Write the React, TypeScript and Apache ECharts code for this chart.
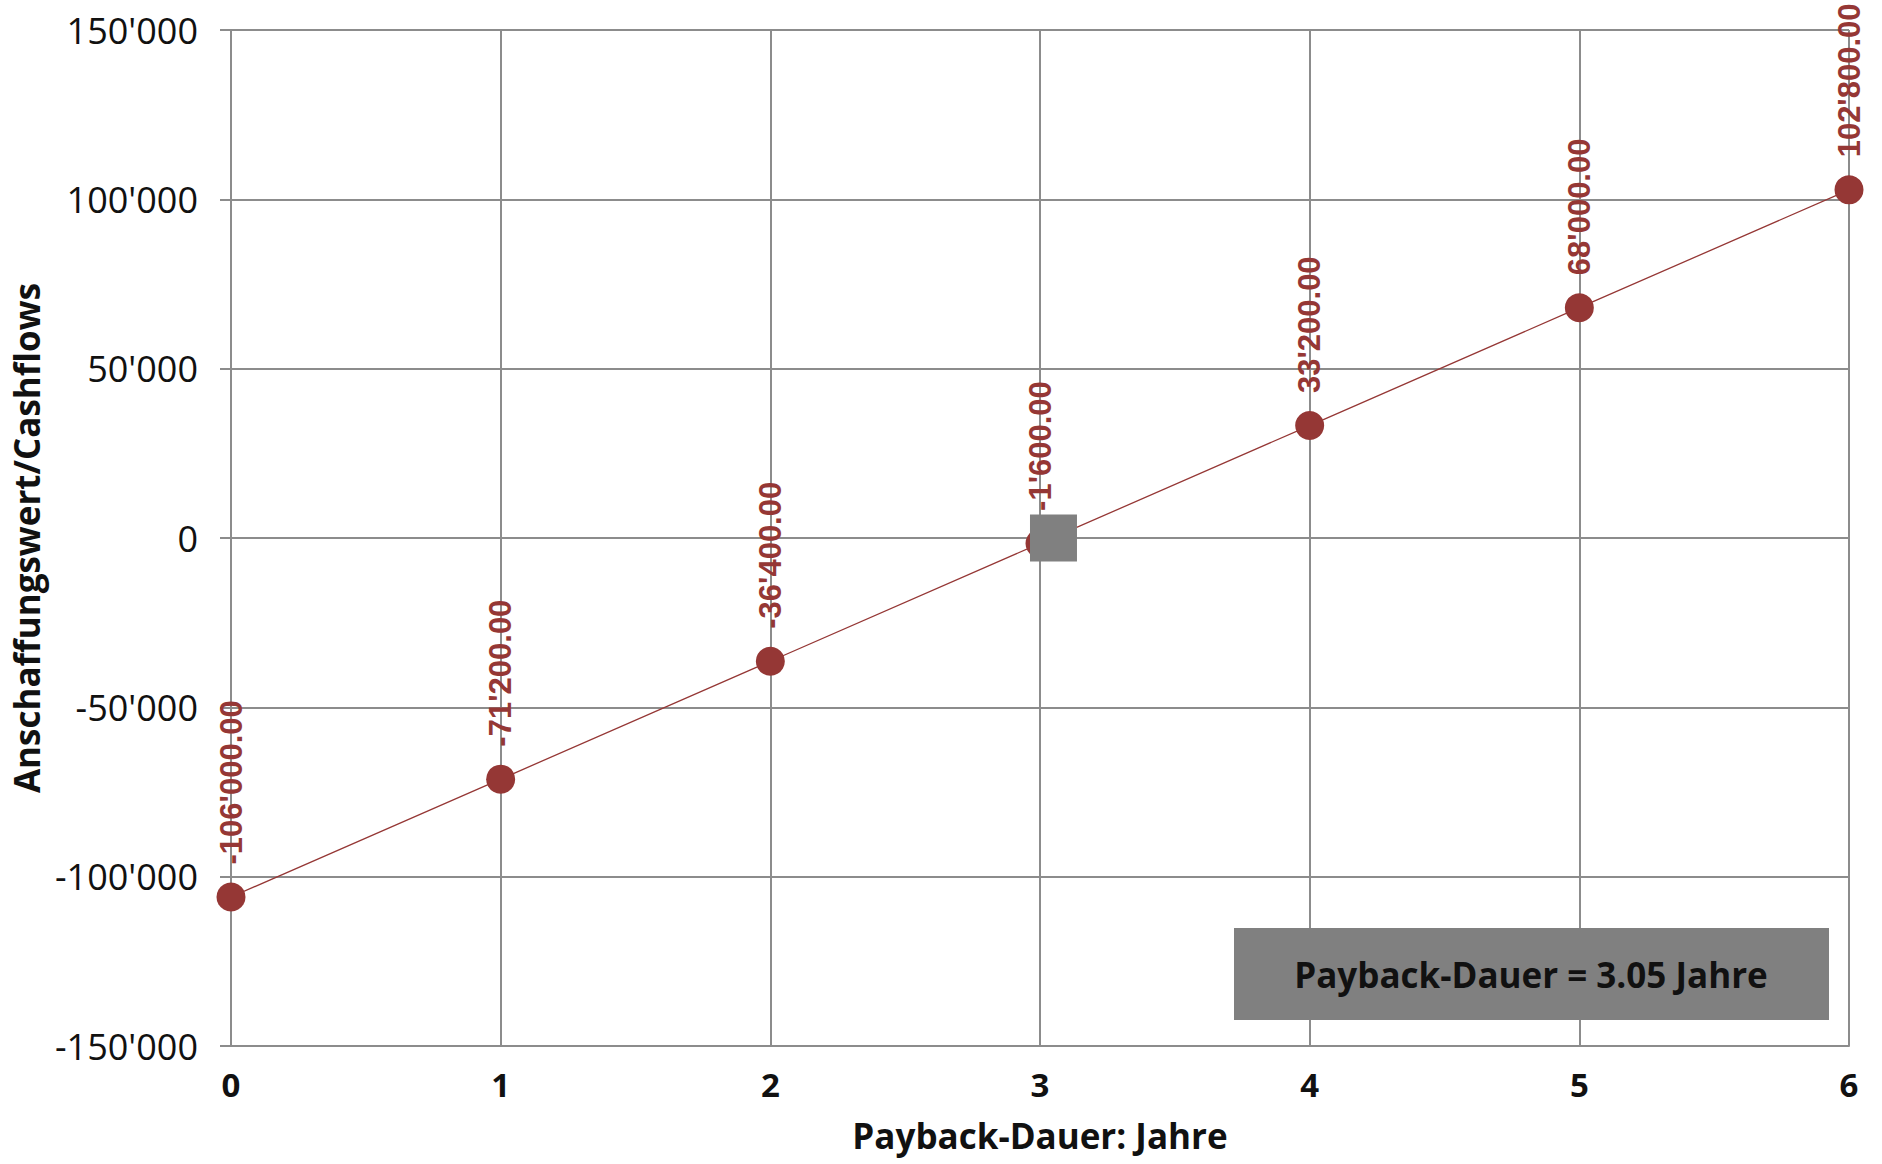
import React, { useEffect, useRef } from "react";
import * as echarts from "echarts";

const years: number[] = [0, 1, 2, 3, 4, 5, 6];
const cashflows: number[] = [-106000, -71200, -36400, -1600, 33200, 68000, 102800];
const paybackYears = 3.05;
const paybackLabel = "Payback-Dauer = 3.05 Jahre";
const xAxisName = "Payback-Dauer: Jahre";
const yAxisName = "Anschaffungswert/Cashflows";

const RED = "#953735";
const GRID = "#8c8c8c";
const FONT = "'Open Sans', 'Noto Sans', sans-serif";

function fmtThousands(v: number, decimals: number): string {
  const neg = v < 0;
  const abs = Math.abs(v);
  const fixed = abs.toFixed(decimals);
  const [intPart, dec] = fixed.split(".");
  const withSep = intPart.replace(/\B(?=(\d{3})+(?!\d))/g, "'");
  return (neg ? "-" : "") + withSep + (dec !== undefined ? "." + dec : "");
}

export default function App() {
  const ref = useRef<HTMLDivElement>(null);
  useEffect(() => {
    if (!ref.current) return;
    const chart = echarts.init(ref.current, undefined, { renderer: "svg" });
    chart.setOption({
      animation: false,
      backgroundColor: "#ffffff",
      grid: { left: 231, top: 30, right: 33, bottom: 118, containLabel: false },
      xAxis: {
        type: "value",
        min: 0,
        max: 6,
        interval: 1,
        name: xAxisName,
        nameLocation: "middle",
        nameGap: 72,
        nameTextStyle: { fontFamily: FONT, fontWeight: "bold", fontSize: 35, color: "#111" },
        axisLine: { show: true, onZero: false, lineStyle: { color: GRID, width: 2 } },
        axisTick: { show: false },
        axisLabel: { fontFamily: FONT, fontWeight: "bold", fontSize: 33, color: "#111", margin: 22 },
        splitLine: { show: true, lineStyle: { color: GRID, width: 2 } },
      },
      yAxis: {
        type: "value",
        min: -150000,
        max: 150000,
        interval: 50000,
        name: yAxisName,
        nameLocation: "middle",
        nameGap: 184,
        nameTextStyle: { fontFamily: FONT, fontWeight: "bold", fontSize: 35, color: "#111" },
        axisLine: { show: true, onZero: false, lineStyle: { color: GRID, width: 2 } },
        axisTick: { show: true, inside: false, length: 11, lineStyle: { color: GRID, width: 2 } },
        axisLabel: {
          fontFamily: FONT,
          fontSize: 36,
          color: "#111",
          margin: 33,
          formatter: (v: number) => fmtThousands(v, 0),
        },
        splitLine: { show: true, lineStyle: { color: GRID, width: 2 } },
      },
      series: [
        {
          type: "line",
          data: years.map((x, i) => [x, cashflows[i]]),
          symbol: "circle",
          symbolSize: 29,
          lineStyle: { color: RED, width: 1.3 },
          itemStyle: { color: RED },
          z: 3,
          label: {
            show: true,
            position: "top",
            distance: 18,
            rotate: 90,
            align: "left",
            verticalAlign: "middle",
            fontFamily: "'Liberation Sans', Arial, sans-serif",
            fontWeight: "bold",
            fontSize: 31,
            color: RED,
            formatter: (p: any) => fmtThousands(p.value[1], 2),
          },
        },
        {
          type: "scatter",
          data: [[paybackYears, 0]],
          symbol: "rect",
          symbolSize: 47,
          itemStyle: { color: "#808080", opacity: 1 },
          z: 5,
        },
      ],
      graphic: [
        {
          type: "group",
          left: 1234,
          top: 928,
          z: 100,
          children: [
            {
              type: "rect",
              z: 100,
              shape: { x: 0, y: 0, width: 595, height: 92 },
              style: { fill: "#808080" },
            },
            {
              type: "text",
              z: 101,
              x: 297,
              y: 46,
              style: {
                text: paybackLabel,
                fontFamily: FONT,
                fontWeight: "bold",
                fontSize: 35,
                fill: "#111",
                align: "center",
                verticalAlign: "middle",
              },
            },
          ],
        },
      ],
    });
    return () => chart.dispose();
  }, []);
  return (
    <div
      ref={ref}
      style={{ position: "fixed", left: 0, top: 0, width: 1882, height: 1164, background: "#fff" }}
    />
  );
}
